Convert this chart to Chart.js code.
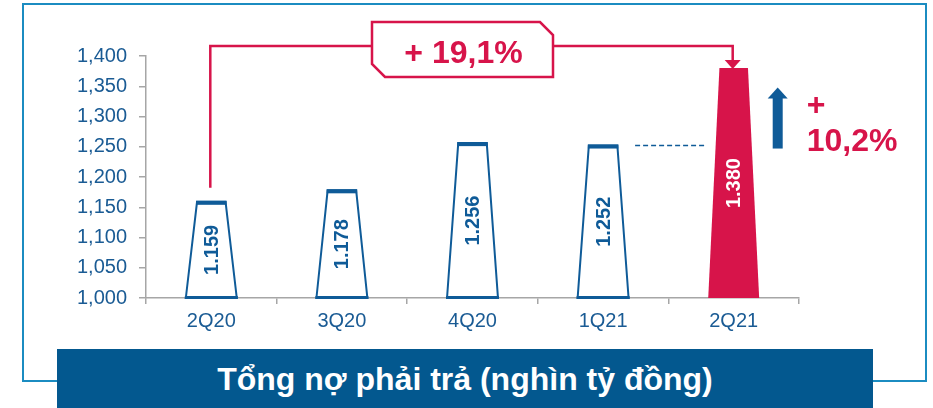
<!DOCTYPE html>
<html><head><meta charset="utf-8">
<script src="https://cdn.jsdelivr.net/npm/chart.js@4"></script>
<style>
html,body{margin:0;padding:0;background:#fff;}
#wrap{position:relative;width:933px;height:408px;overflow:hidden;font-family:"Liberation Sans",Arial,sans-serif;}
#frame{position:absolute;left:22px;top:3px;width:901px;height:375px;border:2px solid #1b8cc1;}
#c{position:absolute;left:0;top:0;}
#banner{position:absolute;left:57px;top:349px;width:816px;height:59px;background:#03588f;color:#fff;font-weight:bold;font-size:32px;line-height:57px;text-align:center;padding-top:2px;box-sizing:border-box;white-space:nowrap;}
</style></head>
<body><div id="wrap"><div id="frame"></div><canvas id="c" width="933" height="408"></canvas><div id="banner">Tổng nợ phải trả (nghìn tỷ đồng)</div></div>
<script>
const categories = ['2Q20','3Q20','4Q20','1Q21','2Q21'];
const debtValues = [1159,1178,1256,1252,1380];
const valueLabels = ['1.159','1.178','1.256','1.252','1.380'];
const yTickMin = 1000, yTickMax = 1400, yTickStep = 50;
const totalGrowthLabel = '+ 19,1%';
const qoqGrowthLabels = ['+','10,2%'];
const highlightIndex = 4;
const compareIndex = 3;

const BLUE='#0f5b98', RED='#d7144a', TEXTBLUE='#1a5b94', AXIS='#a6a6a6';
const FONT='"Liberation Sans", Arial, sans-serif';
Chart.defaults.font.family = FONT;

const trapezoidPlugin = {
  id:'trap',
  afterDatasetsDraw(chart){
    const ctx=chart.ctx; const meta=chart.getDatasetMeta(0);
    const floor=chart.scales.y.getPixelForValue(yTickMin);
    meta.data.forEach((bar,i)=>{
      const {x,y,width}=bar.getProps(['x','y','width'],true);
      const base=floor;
      const hb=width/2, ht=width*0.28;
      ctx.save();
      ctx.beginPath();
      ctx.moveTo(x-hb,base); ctx.lineTo(x-ht,y); ctx.lineTo(x+ht,y); ctx.lineTo(x+hb,base); ctx.closePath();
      if(i===highlightIndex){ ctx.fillStyle=RED; ctx.fill(); }
      else {
        ctx.fillStyle='#fff'; ctx.fill();
        ctx.lineWidth=2; ctx.strokeStyle=BLUE; ctx.lineJoin='miter'; ctx.stroke();
        ctx.fillStyle=BLUE;
        ctx.fillRect(x-ht-1,y-1,2*ht+2,4);
        ctx.fillRect(x-hb-1,base-2,width+2,3);
      }
      ctx.translate(x+1,(y+base)/2); ctx.rotate(-Math.PI/2);
      ctx.font='bold 20px '+FONT; ctx.textAlign='center'; ctx.textBaseline='middle';
      ctx.fillStyle = i===highlightIndex ? '#fff' : BLUE;
      ctx.fillText(valueLabels[i],0,0);
      ctx.restore();
    });
  }
};

const annotPlugin = {
  id:'annot',
  afterDraw(chart){
    const ctx=chart.ctx, ys=chart.scales.y, area=chart.chartArea;
    const bars=chart.getDatasetMeta(0).data;
    const b0=bars[0], bh=bars[highlightIndex], bc=bars[compareIndex];
    const lineY=area.top-10;
    const x0=b0.x-1, x1=bh.x-1;
    ctx.save();
    ctx.strokeStyle=RED; ctx.lineWidth=2.5; ctx.lineJoin='miter';
    ctx.beginPath(); ctx.moveTo(x0,b0.y-14); ctx.lineTo(x0,lineY); ctx.lineTo(x1,lineY); ctx.lineTo(x1,bh.y-7); ctx.stroke();
    ctx.fillStyle=RED; ctx.beginPath(); ctx.moveTo(x1-8,bh.y-8); ctx.lineTo(x1+8,bh.y-8); ctx.lineTo(x1,bh.y+1); ctx.closePath(); ctx.fill();
    const cx=(x0+x1)/2-9, bw=181, top=lineY-24, bot=lineY+31, l=cx-bw/2, r=cx+bw/2, c=13;
    ctx.beginPath(); ctx.moveTo(l,top); ctx.lineTo(r-c,top); ctx.lineTo(r,top+c); ctx.lineTo(r,bot); ctx.lineTo(l+c,bot); ctx.lineTo(l,bot-c); ctx.closePath();
    ctx.fillStyle='#fff'; ctx.fill(); ctx.stroke();
    ctx.fillStyle=RED; ctx.font='bold 32px '+FONT; ctx.textAlign='center'; ctx.textBaseline='alphabetic';
    ctx.fillText(totalGrowthLabel, cx+1, lineY+17);
    const dy=ys.getPixelForValue(debtValues[compareIndex]);
    ctx.strokeStyle=BLUE; ctx.lineWidth=1.5; ctx.setLineDash([5,3]);
    ctx.beginPath(); ctx.moveTo(bc.x+32,dy); ctx.lineTo(bh.x-29,dy); ctx.stroke(); ctx.setLineDash([]);
    const ax=bh.x+44, aBot=dy+3, aTop=aBot-61;
    ctx.fillStyle=BLUE;
    ctx.fillRect(ax-5,aTop+10,10,aBot-aTop-10);
    ctx.beginPath(); ctx.moveTo(ax-10,aTop+11); ctx.lineTo(ax+10,aTop+11); ctx.lineTo(ax,aTop); ctx.closePath(); ctx.fill();
    ctx.fillStyle=RED; ctx.textAlign='left';
    ctx.fillText(qoqGrowthLabels[0], bh.x+73, dy-31);
    ctx.fillText(qoqGrowthLabels[1], bh.x+73, dy+5);
    ctx.restore();
  }
};

new Chart(document.getElementById('c'),{
  type:'bar',
  data:{labels:categories,datasets:[{data:debtValues,base:yTickMin,backgroundColor:'rgba(0,0,0,0)',borderWidth:0,barPercentage:1,categoryPercentage:0.39}]},
  options:{
    responsive:false, animation:false,
    layout:{padding:{left:0,right:134,top:56,bottom:70}},
    plugins:{legend:{display:false},tooltip:{enabled:false}},
    scales:{
      x:{
        grid:{display:true,drawOnChartArea:false,drawTicks:true,tickLength:6,color:AXIS,lineWidth:1.5},
        border:{display:true,color:AXIS,width:1.5},
        ticks:{color:TEXTBLUE,font:{size:20},padding:5},
        afterFit(s){ s.height=40; }
      },
      y:{
        min:yTickMin, max:yTickMax,
        ticks:{stepSize:yTickStep,color:TEXTBLUE,font:{size:20},padding:12,callback:v=>v.toLocaleString('en-US')},
        grid:{drawOnChartArea:false,tickLength:7,color:AXIS,lineWidth:1.5},
        border:{color:AXIS,width:1.5},
        afterFit(s){ s.width=146; }
      }
    }
  },
  plugins:[trapezoidPlugin,annotPlugin]
});
</script>
</body></html>
